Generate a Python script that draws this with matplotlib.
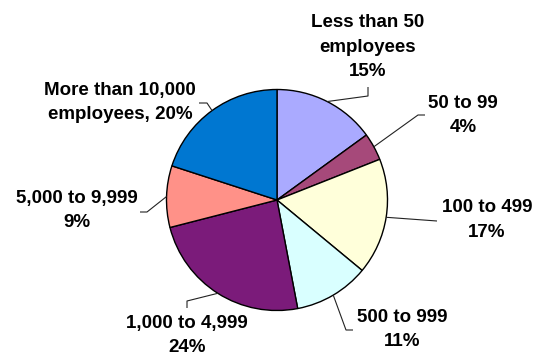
import matplotlib
matplotlib.use("Agg")
import matplotlib.pyplot as plt
import numpy as np

# data
categories = ["Less than 50 employees", "50 to 99", "100 to 499", "500 to 999",
              "1,000 to 4,999", "5,000 to 9,999", "More than 10,000 employees"]
shares = [15, 4, 17, 11, 24, 9, 20]
labels = ["Less than 50\nemployees\n15%", "50 to 99\n4%", "100 to 499\n17%",
          "500 to 999\n11%", "1,000 to 4,999\n24%", "5,000 to 9,999\n9%",
          "More than 10,000\nemployees, 20%"]
colors = ["#AAAAFF", "#A6497A", "#FFFFDA", "#D9FFFF", "#7B1B7A", "#FF9188", "#0077D1"]

# layout (pixel coords, y measured from top)
W, H = 542, 354
cx, cy, r = 277, 200, 110.5
label_xy = [(368, 47), (463, 115.5), (487, 220), (402, 329.5),
            (187, 335.5), (77, 210.5), (120, 102.5)]
elbows = [(368, 96), (418, 115), (437, 221), (346, 330),
          (187, 301), (147, 212), (207, 103)]
ends = [(368, 87), (425, 115), (437, 221), (353, 330),
        (187, 308), (140, 212), (199, 103)]

fig = plt.figure(figsize=(W / 100, H / 100), dpi=100)
ax = fig.add_axes([0, 0, 1, 1])

wedges, _ = ax.pie(shares, colors=colors, startangle=90, counterclock=False,
                   center=(cx, H - cy), radius=r,
                   wedgeprops=dict(edgecolor="black", linewidth=1.0))

total = float(sum(shares))
cum = np.cumsum([0] + shares)
for i, lab in enumerate(labels):
    mid = (cum[i] + cum[i + 1]) / 2 / total * 2 * np.pi
    sx = cx + r * np.sin(mid)
    sy = cy - r * np.cos(mid)
    xs = [sx, elbows[i][0], ends[i][0]]
    ys = [H - sy, H - elbows[i][1], H - ends[i][1]]
    ax.plot(xs, ys, color="#222222", lw=0.8, solid_capstyle="butt")
    tx, ty = label_xy[i]
    ax.text(tx, H - ty, lab, ha="center", va="center", multialignment="center",
            fontsize=13.5, fontweight="bold", family=["Liberation Sans", "DejaVu Sans"],
            linespacing=1.6)

ax.set_xlim(0, W)
ax.set_ylim(0, H)
ax.set_aspect("equal")
ax.axis("off")

fig.savefig("out.png", dpi=100)
plt.close(fig)
